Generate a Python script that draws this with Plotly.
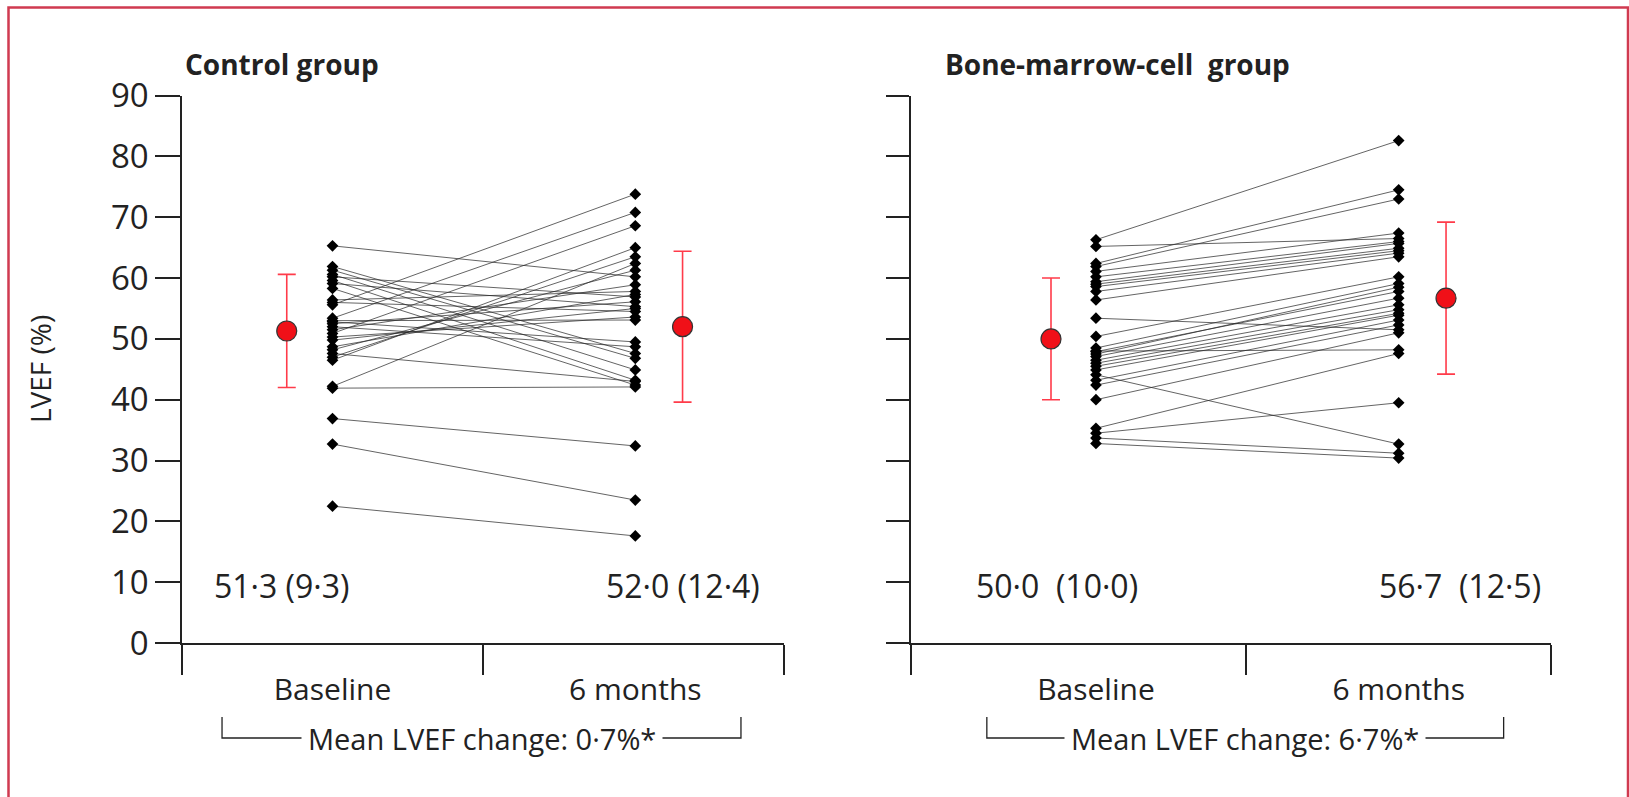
import plotly.graph_objects as go

# ---------------- data ----------------
categories = ["Baseline", "6 months"]

control_baseline = [65.3, 61.9, 61.3, 60.6, 60.2, 59.6, 59.1, 58.3, 56.4, 56.0,
                    55.6, 53.4, 53.0, 52.8, 52.5, 52.0, 51.5, 50.9, 50.3, 49.8,
                    48.7, 48.2, 47.6, 47.0, 46.5, 42.2, 41.9, 36.9, 32.7, 22.5]
control_6m = [60.2, 47.6, 46.8, 44.9, 56.9, 43.2, 55.3, 42.4, 57.8, 54.5,
              73.8, 70.8, 53.1, 49.5, 56.1, 48.7, 58.9, 68.6, 53.6, 55.0,
              57.3, 61.3, 43.0, 63.5, 65.0, 62.4, 42.1, 32.4, 23.5, 17.6]

bmc_baseline = [66.3, 65.2, 62.4, 61.9, 61.1, 60.2, 59.4, 59.0, 58.6, 57.8,
                56.4, 53.4, 50.4, 48.5, 48.0, 47.9, 47.5, 47.1, 46.5, 46.0,
                45.5, 44.9, 44.1, 43.2, 42.4, 40.0, 35.3, 34.5, 33.7, 32.8]
bmc_6m = [82.6, 66.5, 74.5, 73.0, 67.4, 66.0, 65.7, 64.9, 64.5, 64.1,
          63.5, 51.5, 60.2, 59.1, 48.2, 57.8, 58.5, 56.7, 55.6, 54.8,
          54.2, 53.9, 32.7, 53.1, 52.3, 51.0, 47.6, 39.5, 31.2, 30.4]

control_mean = [51.3, 52.0]
control_sd = [9.3, 12.4]
bmc_mean = [50.0, 56.7]
bmc_sd = [10.0, 12.5]

control_change = "0·7%*"
bmc_change = "6·7%*"
y_ticks = [0, 10, 20, 30, 40, 50, 60, 70, 80, 90]

# ---------------- layout constants ----------------
W, H = 1629, 797
FONT = "Open Sans"
INK = "#222222"
RED = "#f01018"
ERR = "#ff3b4a"

panels = [
    dict(name="Control group", base=control_baseline, m6=control_6m,
         mean=control_mean, sd=control_sd, change=control_change,
         xa="x", ya="y", cat_x=[0.5, 1.506], mean_x=[0.348, 1.663],
         lab_x=[0.33, 1.663], bounds=[0, 1, 2], bracket=[0.133, 1.857]),
    dict(name="Bone-marrow-cell\u00a0 group", base=bmc_baseline, m6=bmc_6m,
         mean=bmc_mean, sd=bmc_sd, change=bmc_change,
         xa="x2", ya="y2", cat_x=[0.578, 1.524], mean_x=[0.4375, 1.672],
         lab_x=[0.455, 1.716], bounds=[0, 1.046, 2], bracket=[0.237, 1.852]),
]

fig = go.Figure()

for p in panels:
    lx, ly = [], []
    for b, m in zip(p["base"], p["m6"]):
        lx += [p["cat_x"][0], p["cat_x"][1], None]
        ly += [b, m, None]
    fig.add_trace(go.Scatter(x=lx, y=ly, mode="lines",
                             line=dict(color="rgba(40,40,40,0.72)", width=1),
                             xaxis=p["xa"], yaxis=p["ya"], showlegend=False,
                             hoverinfo="skip"))
    fig.add_trace(go.Scatter(x=[p["cat_x"][0]] * len(p["base"]) + [p["cat_x"][1]] * len(p["m6"]),
                             y=p["base"] + p["m6"], mode="markers",
                             marker=dict(symbol="diamond", size=9, color="black"),
                             xaxis=p["xa"], yaxis=p["ya"], showlegend=False))
    fig.add_trace(go.Scatter(x=p["mean_x"], y=p["mean"], mode="markers",
                             marker=dict(symbol="circle", size=20, color=RED,
                                         line=dict(color="#333", width=1.2)),
                             error_y=dict(type="data", array=p["sd"], color=ERR,
                                          thickness=1.6, width=9),
                             xaxis=p["xa"], yaxis=p["ya"], showlegend=False))

axis_common = dict(showgrid=False, zeroline=False, showline=True, linecolor=INK,
                   linewidth=1.5, ticks="outside", tickcolor=INK, tickwidth=1.5,
                   automargin=False)

fig.update_layout(
    width=W, height=H, margin=dict(l=0, r=0, t=0, b=0, pad=0, autoexpand=False),
    paper_bgcolor="white", plot_bgcolor="white",
    font=dict(family=FONT, color=INK),
    xaxis=dict(domain=[182 / W, 784 / W], range=[0, 2], anchor="y",
               tickvals=panels[0]["cat_x"], ticktext=categories,
               tickfont=dict(size=30), **{**axis_common, "ticks": ""},
               minor=dict(tickvals=panels[0]["bounds"], ticks="outside", ticklen=30,
                          tickcolor=INK, tickwidth=1.5),
               ticklabelstandoff=19),
    xaxis2=dict(domain=[911 / W, 1551 / W], range=[0, 2], anchor="y2",
                tickvals=panels[1]["cat_x"], ticktext=categories,
                tickfont=dict(size=30), **{**axis_common, "ticks": ""},
                minor=dict(tickvals=panels[1]["bounds"], ticks="outside", ticklen=30,
                           tickcolor=INK, tickwidth=1.5),
                ticklabelstandoff=19),
    yaxis=dict(domain=[1 - 643 / H, 1 - 95.6 / H], range=[0, 90], anchor="x",
               tickvals=y_ticks, ticklen=25, tickfont=dict(size=33), **axis_common),
    yaxis2=dict(domain=[1 - 643 / H, 1 - 95.6 / H], range=[0, 90], anchor="x2",
                tickvals=y_ticks, ticklen=23, showticklabels=False, **axis_common),
)

ann = []
shapes = []
for i, p in enumerate(panels):
    xref = p["xa"]
    # panel title
    ann.append(dict(text=f"<b>{p['name']}</b>", xref="paper", yref="paper",
                    x=(183 if i == 0 else 943) / W, y=1 - 64 / H, xanchor="left",
                    yanchor="middle", showarrow=False, font=dict(size=28)))
    # mean (SD) labels
    for j in range(2):
        txt = f"{p['mean'][j]:.1f} ({p['sd'][j]:.1f})".replace(".", "·")
        if i == 1:
            txt = txt.replace(" (", "\u00a0\u00a0(")
        ann.append(dict(text=txt, xref=xref, yref=p["ya"], x=p["lab_x"][j], y=9.4,
                        xanchor="center", yanchor="middle", showarrow=False,
                        font=dict(size=32)))
    # bracket
    bx0, bx1 = p["bracket"]
    yb, yt = 1 - 738 / H, 1 - 717 / H
    shapes.append(dict(type="path", xref=xref, yref="paper",
                       path=f"M {bx0},{yt} L {bx0},{yb} L {bx1},{yb} L {bx1},{yt}",
                       line=dict(color=INK, width=1.3)))
    ann.append(dict(text=f"Mean LVEF change: {p['change']}", xref=xref, yref="paper",
                    x=(bx0 + bx1) / 2, y=yb, xanchor="center", yanchor="middle",
                    showarrow=False, font=dict(size=29), bgcolor="white",
                    borderpad=6))

ann.append(dict(text="LVEF (%)", xref="paper", yref="paper", x=40 / W, y=1 - 369 / H,
                textangle=-90, showarrow=False, xanchor="center", yanchor="middle",
                font=dict(size=28)))

shapes.append(dict(type="rect", xref="paper", yref="paper",
                   x0=8.5 / W, x1=1628 / W, y0=-0.05, y1=1 - 7.5 / H,
                   line=dict(color="#d03a50", width=2.5), layer="below"))

fig.update_layout(annotations=ann, shapes=shapes)
fig.write_html("out.html")
